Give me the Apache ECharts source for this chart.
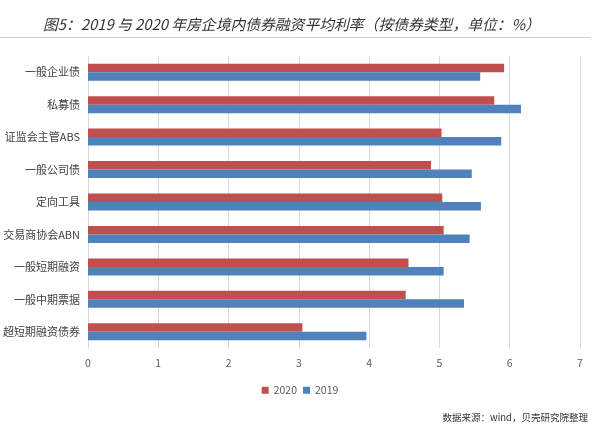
<!DOCTYPE html>
<html><head><meta charset="utf-8">
<script src="https://cdn.jsdelivr.net/npm/echarts@6/dist/echarts.min.js"></script>
<style>html,body{margin:0;padding:0;background:#fff;}#c{width:600px;height:435px;}</style>
</head><body><div id="c"></div>
<script>
const categories = ['一般企业债','私募债','证监会主管ABS','一般公司债','定向工具','交易商协会ABN','一般短期融资','一般中期票据','超短期融资债券'];
const values2020 = [5.92, 5.78, 5.03, 4.88, 5.04, 5.06, 4.56, 4.52, 3.05];
const values2019 = [5.58, 6.16, 5.88, 5.46, 5.59, 5.43, 5.06, 5.35, 3.96];
const xTicks = [0,1,2,3,4,5,6,7];

const chart = echarts.init(document.getElementById('c'), null, {renderer:'canvas'});
chart.setOption({
  backgroundColor:'#fff',
  animation:false,
  title:{
    text:'图5：2019 与 2020 年房企境内债券融资平均利率（按债券类型，单位：%）',
    left:38, top:12,
    textStyle:{fontFamily:'Noto Sans CJK SC', fontStyle:'italic', fontWeight:'normal', fontSize:14.8, color:'#333'}
  },
  graphic:[
    {type:'line', shape:{x1:0,y1:37.5,x2:591,y2:37.5}, style:{stroke:'#cfcfcf', lineWidth:1}},
    {type:'text', right:12, top:413, style:{text:'数据来源：wind，贝壳研究院整理', font:'9.5px "Noto Sans CJK SC"', fill:'#333'}}
  ],
  legend:{
    data:['2020','2019'], left:'center', top:380, itemWidth:7, itemHeight:7, itemGap:6,
    textStyle:{fontSize:10.5, color:'#595959', fontFamily:'Noto Sans CJK SC'},
    icon:'rect'
  },
  grid:{left:88, right:20, top:56, bottom:87, containLabel:false},
  xAxis:{
    type:'value', min:xTicks[0], max:xTicks[xTicks.length-1], interval:1,
    axisLine:{show:false}, axisTick:{show:false},
    splitLine:{lineStyle:{color:'#d9d9d9'}},
    axisLabel:{color:'#595959', fontSize:10.5, margin:10, fontFamily:'Noto Sans CJK SC'}
  },
  yAxis:{
    type:'category', data:categories, inverse:true,
    axisLine:{show:true, lineStyle:{color:'#d9d9d9'}}, axisTick:{show:false},
    axisLabel:{color:'#404040', fontSize:11, margin:8, fontFamily:'Noto Sans CJK SC'}
  },
  series:[
    {name:'2020', type:'bar', data:values2020, barWidth:8.5, barGap:'0%', itemStyle:{color:'#C0504D'}},
    {name:'2019', type:'bar', data:values2019, barWidth:8.5, barGap:'0%', itemStyle:{color:'#4F81BD'}}
  ]
});
</script></body></html>
